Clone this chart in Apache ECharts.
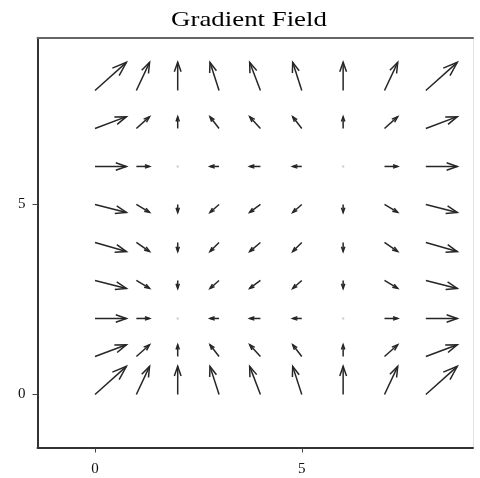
<!DOCTYPE html>
<html>
<head>
<meta charset="utf-8">
<script src="https://cdn.jsdelivr.net/npm/echarts@6/dist/echarts.min.js"></script>
<style>
html,body{margin:0;padding:0;background:#fff;}
#chart{width:480px;height:478px;}
</style>
</head>
<body>
<div id="chart"></div>
<script>
// Grid positions (arrow tails)
var xs = [0, 1, 2, 3, 4, 5, 6, 7, 8];
var ys = [0, 1, 2, 3, 4, 5, 6, 7, 8];
// Horizontal component of arrows, per column (data units)
var vx = [0.76, 0.32, 0, -0.22, -0.26, -0.22, 0, 0.32, 0.76];
// Vertical component of arrows, per row (data units)
var vy = [0.74, 0.31, 0, -0.21, -0.24, -0.21, 0, 0.31, 0.74];
// Tick labels
var xTicks = [0, 5];
var yTicks = [0, 5];
var titleText = 'Gradient Field';

var arrows = [];
for (var j = 0; j < ys.length; j++) {
  for (var i = 0; i < xs.length; i++) {
    arrows.push([xs[i], ys[j], vx[i], vy[j]]);
  }
}

var chart = echarts.init(document.getElementById('chart'), null, {renderer: 'canvas'});
var serif = '"Liberation Serif", "Times New Roman", serif';
var arrowColor = '#262626';

function renderArrow(params, api) {
  var x = api.value(0), y = api.value(1), u = api.value(2), v = api.value(3);
  var p0 = api.coord([x, y]);
  var p1 = api.coord([x + u, y + v]);
  var dx = p1[0] - p0[0], dy = p1[1] - p0[1];
  var L = Math.sqrt(dx * dx + dy * dy);
  if (L < 0.5) {
    return {type: 'circle', shape: {cx: p0[0], cy: p0[1], r: 1.2}, style: {fill: '#d0d0d0'}};
  }
  var ang = Math.atan2(dy, dx);
  var h = Math.max(L * 0.36, 5);
  var a = 0.34;
  var b1 = [p1[0] - h * Math.cos(ang - a), p1[1] - h * Math.sin(ang - a)];
  var b2 = [p1[0] - h * Math.cos(ang + a), p1[1] - h * Math.sin(ang + a)];
  return {
    type: 'group',
    children: [
      {type: 'line', shape: {x1: p0[0], y1: p0[1], x2: p1[0], y2: p1[1]},
       style: {stroke: arrowColor, lineWidth: 1.5}},
      {type: 'polyline', shape: {points: [b1, p1, b2]},
       style: {stroke: arrowColor, fill: null, lineWidth: 1.5}}
    ]
  };
}

var option = {
  animation: false,
  backgroundColor: '#ffffff',
  graphic: [{
    type: 'text',
    x: 249, y: 20.5,
    scaleX: 1.22,
    style: {
      text: titleText,
      font: '22px ' + serif,
      fill: '#000',
      align: 'center',
      verticalAlign: 'middle'
    }
  }],
  grid: {left: 37.5, right: 7, top: 38, bottom: 30.5, containLabel: false},
  xAxis: [{
    type: 'value', position: 'bottom',
    min: -1.39, max: 9.14,
    axisLine: {show: true, onZero: false, lineStyle: {color: '#333', width: 2}},
    axisTick: {show: true, customValues: xTicks, length: 5, inside: false, lineStyle: {color: '#444', width: 1}},
    axisLabel: {show: true, customValues: xTicks, margin: 14, fontFamily: serif, fontSize: 15, color: '#111'},
    splitLine: {show: false}
  }, {
    type: 'value', position: 'top',
    min: -1.39, max: 9.14,
    axisLine: {show: true, onZero: false, lineStyle: {color: '#666', width: 2}},
    axisTick: {show: false}, axisLabel: {show: false}, splitLine: {show: false}
  }],
  yAxis: [{
    type: 'value', position: 'left',
    min: -1.395, max: 9.38,
    axisLine: {show: true, onZero: false, lineStyle: {color: '#333', width: 2}},
    axisTick: {show: true, customValues: yTicks, length: 5, inside: false, lineStyle: {color: '#444', width: 1}},
    axisLabel: {show: true, customValues: yTicks, margin: 12, fontFamily: serif, fontSize: 15, color: '#111'},
    splitLine: {show: false}
  }, {
    type: 'value', position: 'right',
    min: -1.395, max: 9.38,
    axisLine: {show: true, onZero: false, lineStyle: {color: '#e2e2e2', width: 1}},
    axisTick: {show: false}, axisLabel: {show: false}, splitLine: {show: false}
  }],
  series: [{
    type: 'custom',
    xAxisIndex: 0, yAxisIndex: 0,
    renderItem: renderArrow,
    data: arrows,
    clip: false
  }]
};
chart.setOption(option);
</script>
</body>
</html>
